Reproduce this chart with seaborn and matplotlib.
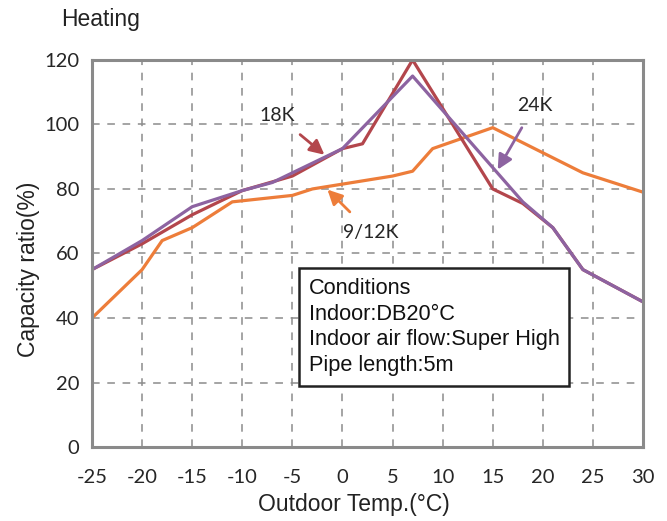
import pandas as pd
import matplotlib
matplotlib.use("Agg")
import matplotlib.pyplot as plt
import seaborn as sns

# Datos
temp_912k = [-25, -20, -18, -15, -11, -5, -3, 0, 5, 7, 9, 15, 24, 30]
cap_912k = [40, 55, 64, 68, 76, 78, 80, 81.5, 84, 85.5, 92.5, 99, 85, 79]

temp_18k = [-25, -20, -15, -10, -5, 0, 2, 7, 15, 18, 21, 24, 30]
cap_18k = [55, 63, 72, 79.5, 84, 92.5, 94, 120, 80, 75.5, 68, 55, 45]

temp_24k = [-25, -20, -15, -10, -7, 0, 7, 18, 21, 24, 30]
cap_24k = [55, 64, 74.5, 79.5, 82, 92.5, 115, 76, 68, 55, 45]

x_ticks = list(range(-25, 31, 5))
y_ticks = list(range(0, 121, 20))

colores = {"18K": "#b3464c", "24K": "#8d63a1", "9/12K": "#ed7d3a"}

sns.set_style("white")
plt.rcParams['font.family'] = ['Liberation Sans', 'DejaVu Sans']
plt.rcParams['axes.unicode_minus'] = False

fig = plt.figure(figsize=(6.67, 5.21), dpi=100)
ax = fig.add_axes([0.138, 0.142, 0.826, 0.743])

gris = "#8a8a8a"
ax.set_axisbelow(True)
ax.grid(True, color="#8c8c8c", linestyle=(0, (5, 5)), linewidth=1.1)

sns.lineplot(x=temp_912k, y=cap_912k, ax=ax, color=colores["9/12K"], linewidth=2.3, sort=False)
sns.lineplot(x=temp_18k, y=cap_18k, ax=ax, color=colores["18K"], linewidth=2.3, sort=False)
sns.lineplot(x=temp_24k, y=cap_24k, ax=ax, color=colores["24K"], linewidth=2.3, sort=False)

ax.set_xlim(-25, 30)
ax.set_ylim(0, 120)
ax.set_xticks(x_ticks)
ax.set_yticks(y_ticks)
for s in ax.spines.values():
    s.set_color(gris)
    s.set_linewidth(2.2)
ax.tick_params(axis="x", direction="inout", length=8, width=2, color=gris,
               labelsize=14.5, pad=12)
ax.tick_params(axis="y", direction="out", length=5, width=2, color=gris,
               labelsize=14.5, pad=4)
for lab in ax.get_xticklabels() + ax.get_yticklabels():
    lab.set_family(['Lato', 'DejaVu Sans'])

ax.set_xlabel("Outdoor Temp.(°C)", fontsize=16.5, color="#222222")
ax.xaxis.set_label_coords(0.476, -0.118)
ax.set_ylabel("Capacity ratio(%)", fontsize=16.5, color="#222222")
ax.yaxis.set_label_coords(-0.095, 0.46)
fig.text(0.092, 0.95, "Heating", fontsize=16.5, color="#222222")

# Etiquetas con flechas
ax.annotate("18K", xy=(-1.8, 90.6), xytext=(-6.5, 102.7), fontsize=14,
            family=['Lato', 'DejaVu Sans'], ha="center", va="center",
            arrowprops=dict(arrowstyle="-|>", color=colores["18K"], lw=2,
                            mutation_scale=22, shrinkA=8, shrinkB=0))
ax.annotate("9/12K", xy=(-1.5, 79.8), xytext=(2.8, 66.5), fontsize=14,
            family=['Lato', 'DejaVu Sans'], ha="center", va="center",
            arrowprops=dict(arrowstyle="-|>", color=colores["9/12K"], lw=2,
                            mutation_scale=22, shrinkA=9, shrinkB=0))
ax.annotate("24K", xy=(15.5, 86), xytext=(19.2, 106), fontsize=14,
            family=['Lato', 'DejaVu Sans'], ha="center", va="center",
            arrowprops=dict(arrowstyle="-|>", color=colores["24K"], lw=2,
                            mutation_scale=22, shrinkA=9, shrinkB=0))

# Cuadro de condiciones
texto = "Conditions\nIndoor:DB20°C\nIndoor air flow:Super High\nPipe length:5m"
ax.text(0.393, 0.437, texto, transform=ax.transAxes, fontsize=15.7, va="top",
        ha="left", linespacing=1.3, color="#111111",
        bbox=dict(boxstyle="square,pad=0.45", facecolor="white",
                  edgecolor="#222222", linewidth=1.8))

fig.savefig("out.png", dpi=100)
